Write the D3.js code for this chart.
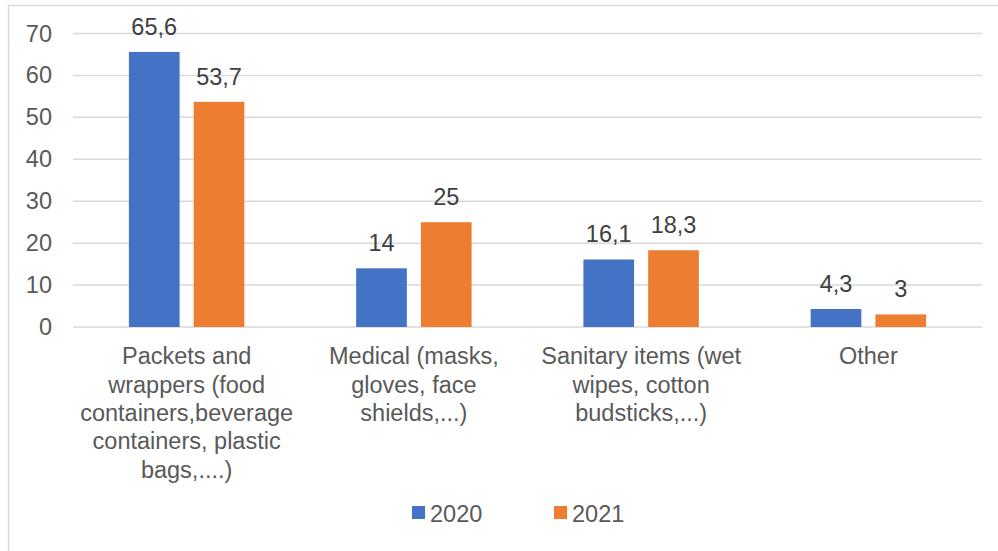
<!DOCTYPE html>
<html>
<head>
<meta charset="utf-8">
<script src="https://cdn.jsdelivr.net/npm/d3@7"></script>
<style>
  html, body { margin: 0; padding: 0; background: #fff; }
  svg { display: block; font-family: "Liberation Sans", Arial, sans-serif; }
</style>
</head>
<body>
<svg id="chart" width="998" height="551"></svg>
<script>
const categories = [
  ["Packets and", "wrappers (food", "containers,beverage", "containers, plastic", "bags,....)"],
  ["Medical (masks,", "gloves, face", "shields,...)"],
  ["Sanitary items (wet", "wipes, cotton", "budsticks,...)"],
  ["Other"]
];
const categoryKeys = ["Packets", "Medical", "Sanitary", "Other"];
const seriesNames = ["2020", "2021"];
const values2020 = [65.6, 14, 16.1, 4.3];
const values2021 = [53.7, 25, 18.3, 3];
const yTicks = [0, 10, 20, 30, 40, 50, 60, 70];
const colors = ["#4472C4", "#ED7D31"];

(function () {
const svg = d3.select("#chart");
const plotLeft = 73, plotRight = 982, plotTop = 33.5, plotBottom = 327;

// outer border (cut off at right/bottom like reference)
svg.append("rect").attr("x", 8.5).attr("y", 5.5).attr("width", 1100).attr("height", 700)
  .attr("fill", "none").attr("stroke", "#D9D9D9").attr("stroke-width", 1.5);

const x0 = d3.scaleBand().domain(categoryKeys).range([plotLeft, plotRight]).paddingInner(0).paddingOuter(0);
const y = d3.scaleLinear().domain([0, 70]).range([plotBottom, plotTop]);

const bw = x0.bandwidth();
const barW = bw * 0.223;
const gap = bw * 0.062;
const x1 = d3.scaleOrdinal().domain(seriesNames).range([-gap / 2 - barW, gap / 2]);

// gridlines
svg.append("g").selectAll("line").data(yTicks).join("line")
  .attr("x1", plotLeft).attr("x2", plotRight)
  .attr("y1", d => y(d)).attr("y2", d => y(d))
  .attr("stroke", "#D9D9D9").attr("stroke-width", 1.5);

// y tick labels
const yAxis = d3.axisLeft(y).tickValues(yTicks).tickSize(0).tickPadding(0).tickFormat(d3.format("d"));
const ya = svg.append("g").attr("transform", `translate(52,0)`).call(yAxis);
ya.select(".domain").remove();
ya.selectAll("text").attr("font-size", "23.5px").attr("fill", "#595959")
  .attr("font-family", "Liberation Sans, Arial, sans-serif");

const data = [values2020, values2021];
const fmt = v => String(v).replace(".", ",");

seriesNames.forEach((s, si) => {
  const g = svg.append("g");
  g.selectAll("rect").data(categoryKeys).join("rect")
    .attr("x", (c) => x0(c) + bw / 2 + x1(s))
    .attr("y", (c, i) => y(data[si][i]))
    .attr("width", barW)
    .attr("height", (c, i) => y(0) - y(data[si][i]))
    .attr("fill", colors[si]);
  g.selectAll("text").data(categoryKeys).join("text")
    .attr("x", (c) => x0(c) + bw / 2 + x1(s) + barW / 2)
    .attr("y", (c, i) => y(data[si][i]) - 17)
    .attr("text-anchor", "middle")
    .attr("font-size", "23.5px").attr("fill", "#404040")
    .text((c, i) => fmt(data[si][i]));
});

// category labels
const cg = svg.append("g");
categoryKeys.forEach((c, i) => {
  const t = cg.append("text").attr("text-anchor", "middle")
    .attr("font-size", "23.5px").attr("fill", "#595959");
  categories[i].forEach((line, li) => {
    t.append("tspan").attr("x", x0(c) + bw / 2).attr("y", 364.3 + li * 28.3).text(line);
  });
});

// legend
const legend = [{name: seriesNames[0], x: 412}, {name: seriesNames[1], x: 554}];
legend.forEach((l, i) => {
  svg.append("rect").attr("x", l.x).attr("y", 506).attr("width", 13).attr("height", 13).attr("fill", colors[i]);
  svg.append("text").attr("x", l.x + 18).attr("y", 521.7).attr("font-size", "23.5px")
    .attr("fill", "#595959").text(l.name);
});
})();
</script>
</body>
</html>
